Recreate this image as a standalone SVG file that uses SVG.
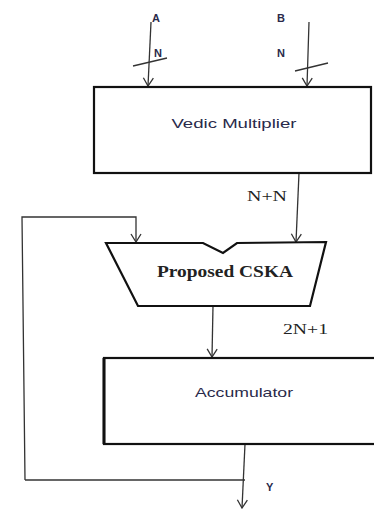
<svg xmlns="http://www.w3.org/2000/svg" width="374" height="509" viewBox="0 0 374 509">
<style>
.ln{stroke:#333;stroke-width:1.3;fill:none}
.box{stroke:#111;stroke-width:2.2;fill:#fff}
.sans{font-family:"Liberation Sans",Arial,sans-serif;fill:#2a2a4a}
.serif{font-family:"Liberation Serif","Times New Roman",serif;fill:#222}
</style>
<defs>
<marker id="ah" markerWidth="12" markerHeight="12" refX="10" refY="6" orient="auto" markerUnits="userSpaceOnUse" viewBox="0 0 12 12">
<path d="M2 1 L10 6 L2 11" fill="none" stroke="#333" stroke-width="1.3"/>
</marker>
</defs>
<rect width="374" height="509" fill="#fff"/>
<g id="connectors">
<line class="ln" x1="151" y1="22" x2="148" y2="86" marker-end="url(#ah)"/>
<line class="ln" x1="133" y1="66" x2="167" y2="58"/>
<line class="ln" x1="309" y1="22" x2="307" y2="86" marker-end="url(#ah)"/>
<line class="ln" x1="295" y1="71" x2="328" y2="63"/>
<line class="ln" x1="299" y1="173" x2="296" y2="242" marker-end="url(#ah)"/>
<polyline class="ln" points="25,480 22,217 136,217 136,242" marker-end="url(#ah)"/>
<line class="ln" x1="213" y1="306" x2="212" y2="357" marker-end="url(#ah)"/>
<line class="ln" x1="245" y1="444" x2="242" y2="508" marker-end="url(#ah)"/>
<line class="ln" x1="25" y1="480" x2="245" y2="480"/>
</g>
<g id="labels">
<text class="sans" x="152" y="22" font-size="11" font-weight="bold" fill="#4a3a6a">A</text>
<text class="sans" x="154" y="57" font-size="11" font-weight="bold">N</text>
<text class="sans" x="277" y="22" font-size="11" font-weight="bold">B</text>
<text class="sans" x="277" y="57" font-size="11" font-weight="bold">N</text>
<text class="serif" x="247" y="201" font-size="14" textLength="40" lengthAdjust="spacingAndGlyphs">N+N</text>
<text class="serif" x="283" y="334" font-size="14" textLength="45" lengthAdjust="spacingAndGlyphs">2N+1</text>
<text class="sans" x="266" y="491" font-size="11" font-weight="bold">Y</text>
</g>
<g id="vedic">
<rect class="box" x="94" y="87" width="277" height="86"/>
<text class="sans" x="234" y="128" font-size="13" text-anchor="middle" textLength="125" lengthAdjust="spacingAndGlyphs">Vedic Multiplier</text>
</g>
<g id="cska">
<path class="box" d="M106 243 L203 243 L223 253 L237 243 L326 242 L310 306 L138 306 Z" stroke-width="1.5"/>
<text class="serif" x="225" y="277" font-size="17" font-weight="bold" text-anchor="middle" textLength="136" lengthAdjust="spacingAndGlyphs">Proposed CSKA</text>
</g>
<g id="accumulator">
<rect class="box" x="104" y="358" width="280" height="86"/>
<line x1="104" y1="358" x2="104" y2="444" stroke="#111" stroke-width="3"/>
<text class="sans" x="244" y="397" font-size="13" text-anchor="middle" textLength="98" lengthAdjust="spacingAndGlyphs">Accumulator</text>
</g>
</svg>
